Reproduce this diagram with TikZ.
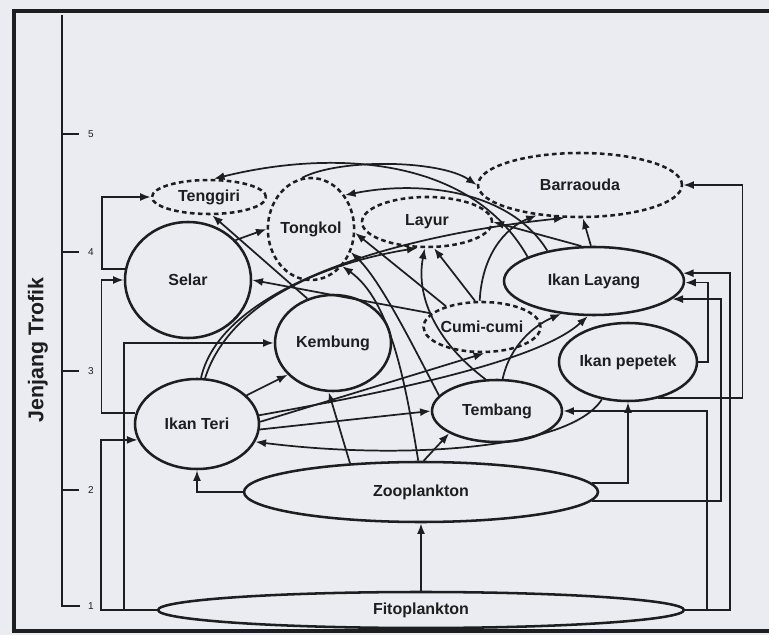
\documentclass[tikz,border=0pt]{standalone}
\usepackage{fontspec}
\setmainfont{Liberation Sans}
\usetikzlibrary{shapes.geometric,arrows.meta}
\definecolor{paper}{RGB}{234,236,241}
\definecolor{ink}{RGB}{30,30,32}
\tikzset{
  organism/.style={ellipse, draw=ink, line width=1.9pt, inner sep=0pt, text=ink,
    font=\bfseries\fontsize{12}{14}\selectfont},
  predator/.style={organism, dash pattern=on 3.5pt off 2.5pt},
  feeds/.style={draw=ink, line width=1.3pt, -{Latex[length=8pt,width=6pt]}},
  rung/.style={draw=ink, line width=1.7pt},
  level/.style={font=\fontsize{7.5}{9}\selectfont, text=ink}
}

\begin{document}
\begin{tikzpicture}[x=0.75pt, y=-0.75pt]
\fill[paper] (0,0) rectangle (769,635);
\useasboundingbox (0,0) rectangle (769,635);
\draw[ink, line width=3pt] (769,11) -- (14,11) -- (14,631) -- (769,631);

% sumbu jenjang trofik
\draw[rung] (62,15) -- (62,606) -- (80,606);
\node[level] (lvl1) at (91,606) {1};
\foreach \lev/\yy in {2/490, 3/371, 4/252, 5/134} {
  \draw[rung] (62,\yy) -- (79,\yy);
  \node[level] (lvl\lev) at (91,\yy) {\lev};
}
\node[rotate=90, text=ink, font=\bfseries\fontsize{16}{18}\selectfont] (axis) at (38,350) {Jenjang Trofik};

% organisme
\node[predator, minimum width=85.5pt, minimum height=25.5pt] (tenggiri) at (209,197) {Tenggiri};
\node[predator, minimum width=58.5pt, minimum height=76.5pt] (tongkol) at (311,229) {Tongkol};
\node[predator, minimum width=97.5pt, minimum height=37.5pt] (layur) at (427,222) {Layur};
\node[predator, minimum width=153pt, minimum height=48pt] (barra) at (580,185) {Barraouda};
\node[organism, minimum width=94.5pt, minimum height=87pt] (selar) at (188,280) {Selar};
\node[organism, minimum width=87pt, minimum height=72pt] (kembung) at (333,343) {Kembung};
\node[predator, minimum width=85.5pt, minimum height=37.5pt] (cumi) at (482,327) {Cumi-cumi};
\node[organism, minimum width=135pt, minimum height=51pt] (layang) at (594,281) {Ikan Layang};
\node[organism, minimum width=103.5pt, minimum height=58.5pt] (pepetek) at (628,362) {Ikan pepetek};
\node[organism, minimum width=97.5pt, minimum height=46.5pt] (tembang) at (497,411) {Tembang};
\node[organism, minimum width=93pt, minimum height=67.5pt] (teri) at (197,424) {Ikan Teri};
\node[organism, minimum width=265.5pt, minimum height=45pt] (zoo) at (421,492) {Zooplankton};
\node[organism, minimum width=394.5pt, minimum height=27pt] (fito) at (421,610) {Fitoplankton};

% jalur siku
\draw[feeds] (selar.170) -- ++(-23,0) |- (tenggiri.west);
\draw[feeds] (teri.170) -- ++(-34,0) |- (selar.west);
\draw[feeds] (fito.west) -- ++(-56,0) |- (teri.195);
\draw[feeds] (fito.west) -- ++(-33,0) |- (kembung.west);
\draw[feeds] (zoo.west) -| (teri.south);
\draw[feeds] (fito.north) -- (zoo.south);
\draw[feeds] (zoo.3) -| (pepetek.south);
\draw[feeds] (zoo.-3) -- ++(129,0) |- (layang.-13);
\draw[feeds] (fito.east) -- ++(22,0) |- (tembang.east);
\draw[feeds] (fito.east) -- ++(45,0) |- (layang.5);
\draw[feeds] (pepetek.east) -- ++(10,0) |- (layang.-1);
\draw[feeds] (pepetek.-50) -- ++(84,0) |- (barra.east);

% jalur lengkung
\draw[feeds] (layang.160) .. controls (470,155) and (330,150) .. (tenggiri.75);
\draw[feeds] (layang.147) .. controls (510,190) and (420,180) .. (tongkol.45);
\draw[feeds] (tongkol.100) .. controls (340,158) and (440,160) .. (barra.west);
\draw[feeds] (selar.40) -- (tongkol.west);
\draw[feeds] (cumi.150) -- (tongkol.-5);
\draw[feeds] (tembang.165) .. controls (410,340) and (380,280) .. (tongkol.-30);
\draw[feeds] (zoo.95) .. controls (405,380) and (390,300) .. (tongkol.-50);
\draw[feeds] (tembang.110) .. controls (440,345) and (415,300) .. (layur.-95);
\draw[feeds] (cumi.105) -- (layur.-75);
\draw[feeds] (layang.110) -- (layur.east);
\draw[feeds] (layang.95) -- (barra.-85);
\draw[feeds] (cumi.95) .. controls (482,255) and (505,228) .. (barra.-145);
\draw[feeds] (teri.80) .. controls (230,300) and (330,262) .. (layur.-110);
\draw[feeds] (teri.85) .. controls (222,285) and (400,235) .. (barra.-115);
\draw[feeds] (cumi.165) -- (selar.east);
\draw[feeds] (kembung.120) -- (tenggiri.-80);
\draw[feeds] (teri.30) -- (kembung.-145);
\draw[feeds] (zoo.158) -- (kembung.-95);
\draw[feeds] (zoo.85) -- (tembang.-155);
\draw[feeds] (tembang.80) .. controls (510,345) and (535,325) .. (layang.-135);
\draw[feeds] (teri.8) .. controls (400,390) and (540,360) .. (layang.-100);
\draw[feeds] (teri.2) -- (cumi.-85);
\draw[feeds] (teri.-5) -- (tembang.west);
\draw[feeds] (pepetek.-125) .. controls (570,450) and (400,460) .. (teri.-17);
\end{tikzpicture}
\end{document}
